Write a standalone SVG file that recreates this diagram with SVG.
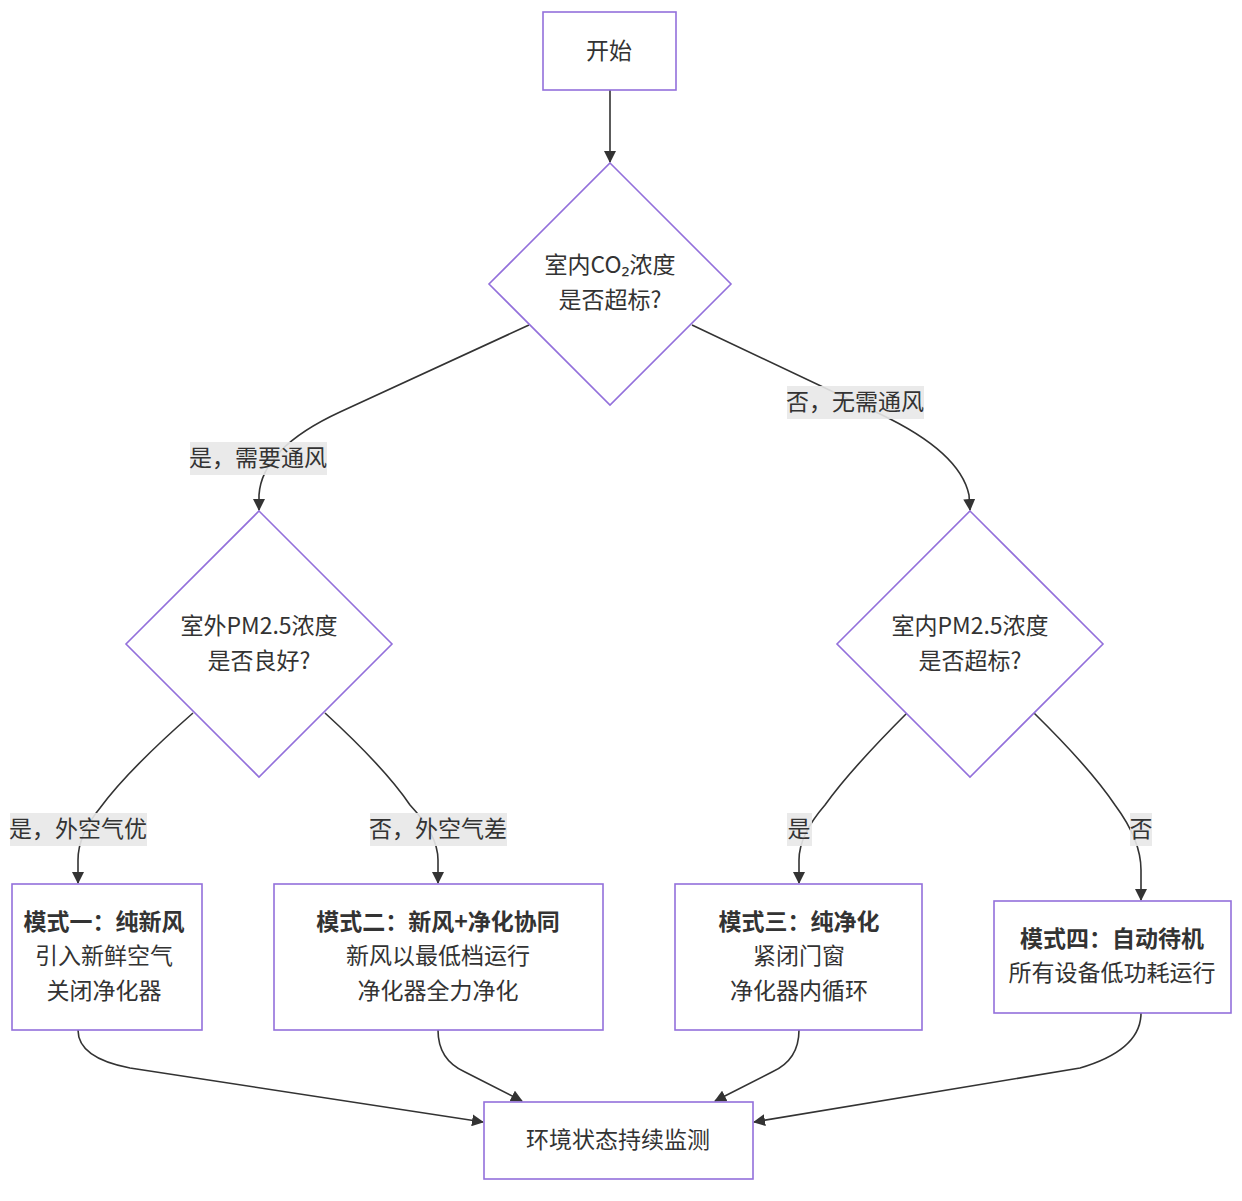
<svg xmlns="http://www.w3.org/2000/svg" width="1242" height="1201" viewBox="0 0 1242 1201">
<defs>
<marker id="arr" viewBox="0 0 12 12" refX="11" refY="6" markerWidth="12" markerHeight="12" markerUnits="userSpaceOnUse" orient="auto">
<path d="M0,0 L12,6 L0,12 z" fill="#333"/>
</marker>
<style>
.node{fill:#ffffff;stroke:#9370DB;stroke-width:1.6}
.t{font-family:"Noto Sans CJK SC","Noto Sans",sans-serif;font-size:23px;fill:#333;text-anchor:middle}
.b{font-weight:bold}
.edge{fill:none;stroke:#333;stroke-width:1.6;marker-end:url(#arr)}
.lbg{fill:#e8e8e8;opacity:0.9}
</style>
</defs>
<rect width="1242" height="1201" fill="#ffffff"/>
<g id="edges">
<path class="edge" d="M610,90 L610,162"/>
<path class="edge" d="M529,325 L340,412 Q262,448 259,495 L259,510"/>
<path class="edge" d="M692,325 L880,414 Q960,452 969,495 L970,510"/>
<path class="edge" d="M193,713 Q128,770 100,808 Q78,835 78,860 L78,883"/>
<path class="edge" d="M325,713 Q385,768 410,805 Q438,835 438,860 L438,883"/>
<path class="edge" d="M907,713 Q850,770 825,805 Q799,835 799,860 L799,883"/>
<path class="edge" d="M1034,713 Q1090,768 1115,805 Q1141,840 1141,870 L1141,900"/>
<path class="edge" d="M78,1030 Q78,1058 130,1068 L483,1122"/>
<path class="edge" d="M438,1030 Q438,1060 465,1072 L522,1101"/>
<path class="edge" d="M799,1030 Q799,1060 772,1072 L715,1101"/>
<path class="edge" d="M1141,1013 Q1141,1050 1080,1068 L754,1122"/>
</g>
<g id="edge-labels">
<rect class="lbg" x="190" y="442" width="137" height="33"/>
<text class="t" x="258" y="466">是，需要通风</text>
<rect class="lbg" x="787" y="386" width="137" height="33"/>
<text class="t" x="855" y="410">否，无需通风</text>
<rect class="lbg" x="10" y="813" width="137" height="33"/>
<text class="t" x="78" y="837">是，外空气优</text>
<rect class="lbg" x="370" y="813" width="137" height="33"/>
<text class="t" x="438" y="837">否，外空气差</text>
<rect class="lbg" x="787" y="813" width="25" height="33"/>
<text class="t" x="799" y="837">是</text>
<rect class="lbg" x="1130" y="813" width="22" height="33"/>
<text class="t" x="1141" y="837">否</text>
</g>
<g id="start">
<rect class="node" x="543" y="12" width="133" height="78"/>
<text class="t" x="609" y="59">开始</text>
</g>
<g id="d1">
<polygon class="node" points="610,163 731,284 610,405 489,284"/>
<text class="t" x="610" y="273">室内CO₂浓度</text>
<text class="t" x="610" y="308">是否超标?</text>
</g>
<g id="d2">
<polygon class="node" points="259,511 392,644 259,777 126,644"/>
<text class="t" x="259" y="634">室外PM2.5浓度</text>
<text class="t" x="259" y="669">是否良好?</text>
</g>
<g id="d3">
<polygon class="node" points="970,511 1103,644 970,777 837,644"/>
<text class="t" x="970" y="634">室内PM2.5浓度</text>
<text class="t" x="970" y="669">是否超标?</text>
</g>
<g id="mode1">
<rect class="node" x="12" y="884" width="190" height="146"/>
<text class="t b" x="104" y="930">模式一：纯新风</text>
<text class="t" x="104" y="964">引入新鲜空气</text>
<text class="t" x="104" y="999">关闭净化器</text>
</g>
<g id="mode2">
<rect class="node" x="274" y="884" width="329" height="146"/>
<text class="t b" x="438" y="930">模式二：新风+净化协同</text>
<text class="t" x="438" y="964">新风以最低档运行</text>
<text class="t" x="438" y="999">净化器全力净化</text>
</g>
<g id="mode3">
<rect class="node" x="675" y="884" width="247" height="146"/>
<text class="t b" x="799" y="930">模式三：纯净化</text>
<text class="t" x="799" y="964">紧闭门窗</text>
<text class="t" x="799" y="999">净化器内循环</text>
</g>
<g id="mode4">
<rect class="node" x="994" y="901" width="237" height="112"/>
<text class="t b" x="1112" y="947">模式四：自动待机</text>
<text class="t" x="1112" y="981">所有设备低功耗运行</text>
</g>
<g id="monitor">
<rect class="node" x="484" y="1102" width="269" height="77"/>
<text class="t" x="618" y="1148">环境状态持续监测</text>
</g>
</svg>
